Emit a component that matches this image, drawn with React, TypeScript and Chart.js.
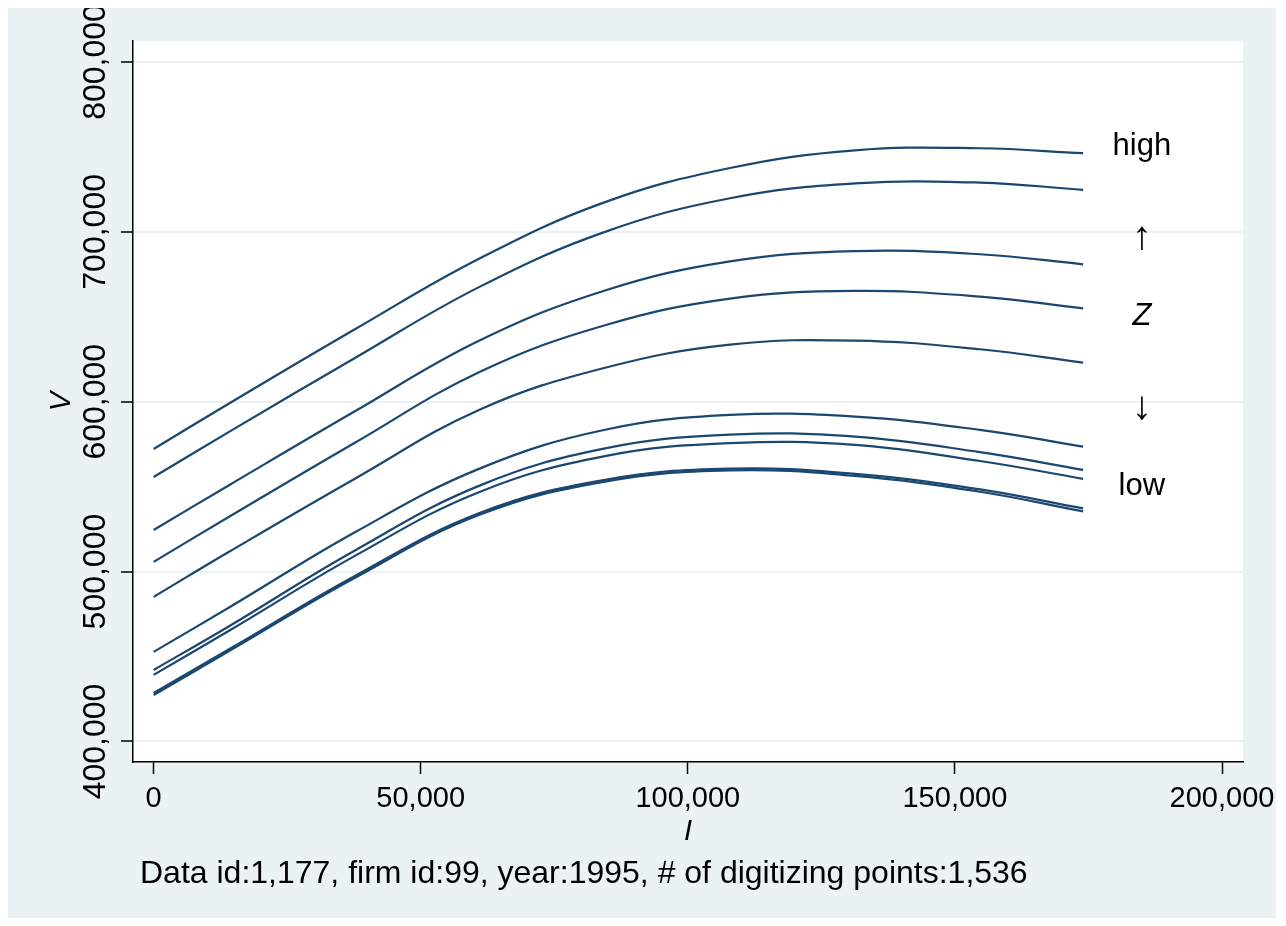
import { useEffect, useRef } from "react";
import { Chart, registerables } from "chart.js";

Chart.register(...registerables);

const I_VALUES = [0, 14200, 37600, 61000, 84500, 107900, 131300, 154700, 174000];

// V curves, from "high" Z (top) to "low" Z (bottom)
const V_CURVE_1 = [572200, 599100, 642500, 684300, 717500, 737600, 748000, 749200, 746300];
const V_CURVE_2 = [555700, 582400, 625600, 667600, 700000, 719800, 728500, 729000, 724700];
const V_CURVE_3 = [524500, 551000, 594200, 636000, 665500, 682600, 688700, 686800, 680900];
const V_CURVE_4 = [505700, 532400, 575700, 617500, 645000, 660700, 665200, 661900, 655000];
const V_CURVE_5 = [485100, 511800, 554500, 595300, 620000, 633600, 636000, 630900, 623000];
const V_CURVE_6 = [452700, 479000, 523000, 560600, 583500, 592200, 591200, 583400, 573600];
const V_CURVE_7 = [442100, 468000, 512300, 550600, 572500, 580600, 579500, 570300, 559900];
const V_CURVE_8 = [439200, 465300, 509100, 546900, 568000, 575600, 574600, 565100, 554600];
const V_CURVE_9 = [428500, 454400, 497300, 534500, 554000, 560600, 557500, 548400, 537200];
const V_CURVE_10 = [427300, 453300, 496200, 533400, 553000, 559600, 556300, 547000, 535400];

const X_TICKS = [0, 50000, 100000, 150000, 200000];
const Y_TICKS = [400000, 500000, 600000, 700000, 800000];

const Z_LABELS = ["high", "\u2191", "Z", "\u2193", "low"];
const Z_LABEL_V = [750000, 700000, 650000, 600000, 550000];
const Z_LABEL_I = 185000;

const X_TITLE = "I";
const Y_TITLE = "V";
const NOTE = "Data id:1,177, firm id:99, year:1995, # of digitizing points:1,536";

const W = 1268;
const H = 910;
const FONT = "'Liberation Sans', Arial, Helvetica, sans-serif";
const BG = "#EAF2F3";
const NAVY = "#1A476F";

const fmt = (v: number | string) => Number(v).toLocaleString("en-US");

const stataPlugin = {
  id: "stataDecor",
  beforeDraw(chart: any) {
    const { ctx, chartArea: a } = chart;
    ctx.save();
    ctx.fillStyle = BG;
    ctx.fillRect(0, 0, chart.width, chart.height);
    ctx.fillStyle = "#ffffff";
    ctx.fillRect(a.left, a.top, a.right - a.left, a.bottom - a.top);
    ctx.restore();
  },
  afterDraw(chart: any) {
    const { ctx, scales, chartArea: a } = chart;
    ctx.save();
    ctx.fillStyle = "#000";
    ctx.textAlign = "center";
    ctx.textBaseline = "middle";
    Z_LABELS.forEach((t, i) => {
      const isArrow = t === "\u2191" || t === "\u2193";
      ctx.font = (t === "Z" ? "italic " : "") + (isArrow ? "40px " : "31px ") + FONT;
      const px = scales.x.getPixelForValue(Z_LABEL_I);
      const py = scales.y.getPixelForValue(Z_LABEL_V[i]) + (isArrow ? 6 : 0);
      ctx.fillText(t, px, py);
    });
    ctx.font = "32px " + FONT;
    ctx.textAlign = "left";
    ctx.textBaseline = "alphabetic";
    ctx.fillText(NOTE, a.left + 7, 875);
    ctx.restore();
  },
};

export default function App() {
  const ref = useRef<HTMLCanvasElement>(null);

  useEffect(() => {
    const series = [
      V_CURVE_1, V_CURVE_2, V_CURVE_3, V_CURVE_4, V_CURVE_5,
      V_CURVE_6, V_CURVE_7, V_CURVE_8, V_CURVE_9, V_CURVE_10,
    ];
    const chart = new Chart(ref.current as HTMLCanvasElement, {
      type: "line",
      data: {
        datasets: series.map((vals, k) => ({
          label: "curve " + (k + 1),
          data: vals.map((v, j) => ({ x: I_VALUES[j], y: v })),
          borderColor: NAVY,
          backgroundColor: NAVY,
          borderWidth: 2.2,
          pointRadius: 0,
          tension: 0.4,
          fill: false,
        })),
      },
      options: {
        animation: false,
        responsive: false,
        devicePixelRatio: 1,
        layout: { autoPadding: false, padding: { top: 33, right: 33, left: 0, bottom: 0 } },
        plugins: { legend: { display: false }, tooltip: { enabled: false }, title: { display: false } },
        scales: {
          x: {
            type: "linear",
            min: -3860,
            max: 203930,
            afterBuildTicks: (s: any) => {
              s.ticks = X_TICKS.map((v) => ({ value: v }));
            },
            afterFit: (s: any) => {
              s.height = 156;
              s.paddingLeft = 0;
              s.paddingRight = 0;
              s.paddingTop = 0;
              s.paddingBottom = 0;
            },
            grid: {
              drawOnChartArea: false,
              drawTicks: true,
              tickLength: 12,
              tickColor: "#000",
              tickWidth: 1.5,
            },
            border: { display: true, color: "#000", width: 1.5 },
            ticks: {
              font: { family: FONT, size: 29 },
              color: "#000",
              padding: 8,
              minRotation: 0,
              maxRotation: 0,
              autoSkip: false,
              callback: (v: any) => fmt(v),
            },
            title: {
              display: true,
              text: X_TITLE,
              color: "#000",
              font: { family: FONT, size: 29, style: "italic" },
              padding: { top: 0, bottom: 69 },
            },
          },
          y: {
            type: "linear",
            min: 387900,
            max: 812350,
            afterBuildTicks: (s: any) => {
              s.ticks = Y_TICKS.map((v) => ({ value: v }));
            },
            afterFit: (s: any) => {
              s.width = 125;
              s.paddingLeft = 0;
              s.paddingRight = 0;
              s.paddingTop = 0;
              s.paddingBottom = 0;
            },
            grid: {
              color: BG,
              lineWidth: 2,
              drawTicks: true,
              tickLength: 12,
              tickColor: "#000",
              tickWidth: 1.5,
            },
            border: { display: true, color: "#000", width: 1.5 },
            ticks: {
              font: { family: FONT, size: 32 },
              color: "#000",
              minRotation: 90,
              maxRotation: 90,
              crossAlign: "center",
              padding: -33,
              autoSkip: false,
              callback: (v: any) => fmt(v),
            },
            title: {
              display: true,
              text: Y_TITLE,
              color: "#000",
              font: { family: FONT, size: 29, style: "italic" },
              padding: { top: 37, bottom: 0 },
            },
          },
        },
      } as any,
      plugins: [stataPlugin],
    });
    return () => chart.destroy();
  }, []);

  return (
    <canvas
      ref={ref}
      width={W}
      height={H}
      style={{ display: "block", width: W + "px", height: H + "px" }}
    />
  );
}
